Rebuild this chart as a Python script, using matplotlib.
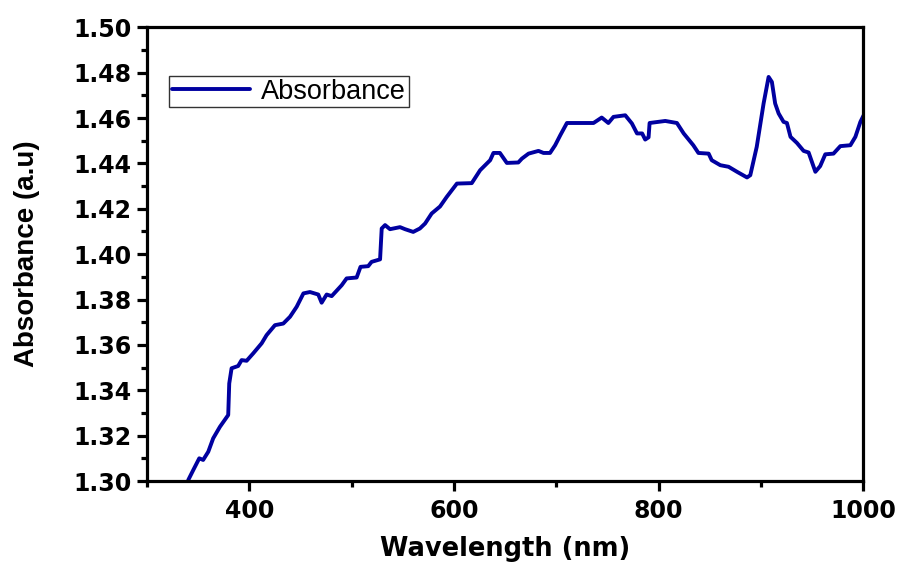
import matplotlib
matplotlib.use("Agg")
import matplotlib.pyplot as plt
from matplotlib.ticker import MultipleLocator

wavelength = [340.4, 345.3, 351.2, 355.0, 360.0, 364.8, 371.4, 379.5, 380.5, 382.8,
              389.2, 392.6, 397.5, 404.0, 412.2, 417.0, 425.2, 433.3, 439.9, 446.4,
              453.0, 459.4, 467.5, 470.8, 475.7, 480.6, 490.4, 495.2, 505.0, 508.8,
              516.3, 519.6, 527.9, 529.5, 532.8, 537.6, 547.4, 552.3, 560.3, 566.8,
              571.9, 578.3, 586.5, 593.0, 603.0, 617.5, 625.7, 635.5, 638.7, 645.0,
              651.8, 663.0, 666.5, 673.0, 682.7, 687.6, 694.0, 699.0, 704.0, 710.5,
              717.0, 736.5, 744.5, 751.0, 756.0, 767.5, 774.0, 779.0, 784.0, 787.0,
              790.3, 791.3, 806.6, 818.0, 824.6, 834.0, 839.0, 849.0, 852.0, 860.4,
              868.5, 876.7, 886.5, 889.7, 896.0, 902.7, 907.6, 910.8, 914.0, 917.4,
              922.2, 925.5, 929.0, 935.3, 941.8, 946.7, 953.3, 958.0, 963.0, 971.0,
              977.7, 987.5, 992.4, 997.3, 1000.5]
absorbance = [1.3004, 1.3048, 1.3100, 1.3093, 1.3129, 1.3188, 1.3239, 1.3291, 1.3430, 1.3497,
              1.3507, 1.3533, 1.3530, 1.3563, 1.3607, 1.3643, 1.3687, 1.3694, 1.3724, 1.3768,
              1.3827, 1.3833, 1.3822, 1.3786, 1.3822, 1.3815, 1.3863, 1.3893, 1.3897, 1.3944,
              1.3947, 1.3966, 1.3977, 1.4113, 1.4128, 1.4110, 1.4119, 1.4110, 1.4098, 1.4113,
              1.4135, 1.4179, 1.4210, 1.4252, 1.4311, 1.4313, 1.4370, 1.4414, 1.4446, 1.4446,
              1.4402, 1.4404, 1.4421, 1.4443, 1.4455, 1.4446, 1.4446, 1.4480, 1.4524, 1.4578,
              1.4578, 1.4578, 1.4602, 1.4578, 1.4605, 1.4612, 1.4576, 1.4532, 1.4532, 1.4505,
              1.4515, 1.4578, 1.4587, 1.4578, 1.4532, 1.4480, 1.4446, 1.4443, 1.4414, 1.4392,
              1.4385, 1.4363, 1.4338, 1.4348, 1.4473, 1.4664, 1.4781, 1.4759, 1.4664, 1.4620,
              1.4583, 1.4578, 1.4517, 1.4490, 1.4455, 1.4448, 1.4363, 1.4388, 1.4440, 1.4443,
              1.4476, 1.4480, 1.4517, 1.4583, 1.4612]

x_ticks = [400, 600, 800, 1000]
y_ticks = [1.30, 1.32, 1.34, 1.36, 1.38, 1.40, 1.42, 1.44, 1.46, 1.48, 1.50]

fig = plt.figure(figsize=(9.01, 5.63), dpi=100)
ax = fig.add_axes([0.163, 0.1456, 0.795, 0.806])
ax.plot(wavelength, absorbance, color="#0000A0", lw=2.8, label="Absorbance",
        solid_joinstyle="round", solid_capstyle="round")
ax.set_xlim(300, 1000)
ax.set_ylim(1.30, 1.50)
ax.set_xticks(x_ticks)
ax.set_yticks(y_ticks)
ax.set_yticklabels([f"{v:.2f}" for v in y_ticks])
ax.xaxis.set_minor_locator(MultipleLocator(100))
ax.yaxis.set_minor_locator(MultipleLocator(0.01))
for s in ax.spines.values():
    s.set_linewidth(2.3)
ax.tick_params(which="major", direction="out", length=7, width=2.3,
               top=False, right=False)
ax.tick_params(which="minor", direction="out", length=4, width=2.3,
               top=False, right=False)
for lab in ax.get_xticklabels() + ax.get_yticklabels():
    lab.set_fontfamily("DejaVu Sans")
    lab.set_fontweight("bold")
    lab.set_fontsize(17)
ax.tick_params(axis="y", pad=4)
ax.tick_params(axis="x", pad=6)

ax.set_xlabel("Wavelength (nm)", fontfamily="DejaVu Sans", fontweight="bold",
              fontsize=18.5, labelpad=9)
ax.set_ylabel("Absorbance (a.u)", fontfamily="Liberation Sans", fontweight="bold",
              fontsize=20, labelpad=24)

leg = ax.legend(loc="upper left", bbox_to_anchor=(0.031, 0.893), frameon=True,
                fancybox=False, edgecolor="black", borderpad=0.1, handlelength=2.9,
                handletextpad=0.4, borderaxespad=0.0,
                prop={"family": "Liberation Sans", "size": 19.5})
leg.get_frame().set_linewidth(1.0)

fig.savefig("out.png", dpi=100)
